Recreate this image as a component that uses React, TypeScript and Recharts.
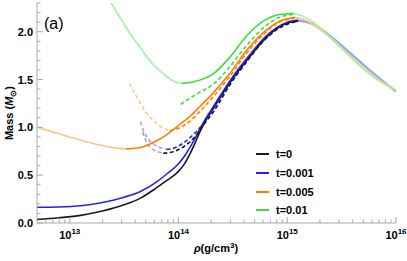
import React from 'react';
import { LineChart, Line, XAxis, YAxis, Legend } from 'recharts';

const FRAME = '#a9a9a9';
const FONT = '"Liberation Sans", Arial, Helvetica, sans-serif';

// x values are log10(rho / g cm^-3), y values are Mass (M_sun)
const xDomain: [number, number] = [Math.log10(5e12), 16];
const yDomain: [number, number] = [0, 2.3];
const xMajorTicks = [13, 14, 15, 16];
const xMinorMultipliers = [2, 3, 4, 5, 6, 7, 8, 9];
const xDecades = [12, 13, 14, 15];
const yTicks = [0, 0.1, 0.2, 0.3, 0.4, 0.5, 0.6, 0.7, 0.8, 0.9, 1.0, 1.1, 1.2, 1.3, 1.4, 1.5, 1.6, 1.7, 1.8, 1.9, 2.0, 2.1, 2.2, 2.3];
const yMajorTicks = [0, 0.5, 1.0, 1.5, 2.0];
const tLabels = ['t=0', 't=0.001', 't=0.005', 't=0.01'];

// t = 0
const t0SolidStable: [number, number][] = [[12.699, 0.036], [12.9, 0.055], [13.1, 0.08], [13.3, 0.125], [13.5, 0.19], [13.65, 0.26], [13.8, 0.37], [13.9, 0.45], [14.0, 0.54], [14.05, 0.61], [14.1, 0.71], [14.15, 0.83], [14.2, 0.96], [14.25, 1.07], [14.3, 1.16], [14.4, 1.34], [14.5, 1.51], [14.6, 1.66], [14.7, 1.8], [14.8, 1.93], [14.9, 2.03], [15.0, 2.09], [15.1, 2.11]];
const t0SolidRight: [number, number][] = [[15.1, 2.11], [15.2, 2.09], [15.3, 2.03], [15.45, 1.9], [15.6, 1.75], [15.75, 1.6], [15.9, 1.46], [16.0, 1.37]];
const t0DashedLeft: [number, number][] = [[13.67, 0.95], [13.7, 0.86], [13.74, 0.79], [13.8, 0.75], [13.86, 0.73]];
const t0DashedStable: [number, number][] = [[13.86, 0.73], [13.95, 0.745], [14.05, 0.8], [14.15, 0.9], [14.24, 1.04], [14.32, 1.16], [14.47, 1.44], [14.63, 1.69], [14.78, 1.9], [14.93, 2.04], [15.1, 2.11]];

// t = 0.001
const t1SolidStable: [number, number][] = [[12.699, 0.165], [12.9, 0.168], [13.1, 0.18], [13.3, 0.215], [13.5, 0.27], [13.65, 0.33], [13.8, 0.43], [13.9, 0.52], [14.0, 0.62], [14.05, 0.69], [14.1, 0.78], [14.15, 0.88], [14.2, 0.99], [14.25, 1.09], [14.3, 1.18], [14.4, 1.36], [14.5, 1.53], [14.6, 1.68], [14.7, 1.82], [14.8, 1.95], [14.9, 2.04], [15.0, 2.1], [15.1, 2.12]];
const t1SolidRight: [number, number][] = [[15.1, 2.12], [15.2, 2.1], [15.3, 2.04], [15.45, 1.91], [15.6, 1.76], [15.75, 1.61], [15.9, 1.47], [16.0, 1.38]];
const t1DashedLeft: [number, number][] = [[13.65, 1.06], [13.68, 0.96], [13.72, 0.88], [13.78, 0.82], [13.85, 0.78], [13.89, 0.77]];
const t1DashedStable: [number, number][] = [[13.89, 0.77], [13.95, 0.78], [14.05, 0.84], [14.15, 0.94], [14.2, 1.0], [14.3, 1.16], [14.47, 1.46], [14.63, 1.71], [14.78, 1.92], [14.93, 2.05], [15.1, 2.12]];

// t = 0.005
const t5SolidLeft: [number, number][] = [[12.699, 1.0], [12.85, 0.95], [13.0, 0.9], [13.15, 0.85], [13.3, 0.81], [13.42, 0.785], [13.52, 0.775]];
const t5SolidStable: [number, number][] = [[13.52, 0.775], [13.65, 0.79], [13.8, 0.86], [13.9, 0.93], [14.0, 1.02], [14.1, 1.11], [14.2, 1.22], [14.32, 1.36], [14.47, 1.56], [14.63, 1.81], [14.78, 1.99], [14.93, 2.11], [15.07, 2.15]];
const t5SolidRight: [number, number][] = [[15.07, 2.15], [15.15, 2.13], [15.25, 2.07], [15.4, 1.93], [15.55, 1.77], [15.7, 1.61], [15.85, 1.48], [16.0, 1.385]];
const t5DashedLeft: [number, number][] = [[13.55, 1.46], [13.6, 1.35], [13.65, 1.25], [13.7, 1.16], [13.75, 1.09], [13.82, 1.02], [13.92, 0.965]];
const t5DashedStable: [number, number][] = [[13.92, 0.965], [14.0, 0.99], [14.1, 1.06], [14.2, 1.17], [14.32, 1.32], [14.47, 1.53], [14.63, 1.78], [14.78, 1.97], [14.93, 2.1], [15.07, 2.14]];

// t = 0.01
const t10SolidLeft: [number, number][] = [[13.3, 2.45], [13.37, 2.32], [13.45, 2.17], [13.51, 2.06], [13.58, 1.94], [13.645, 1.84], [13.72, 1.72], [13.8, 1.62], [13.87, 1.55], [13.93, 1.5], [13.985, 1.47], [14.03, 1.46]];
const t10SolidStable: [number, number][] = [[14.03, 1.46], [14.15, 1.48], [14.32, 1.56], [14.47, 1.73], [14.63, 1.96], [14.78, 2.11], [14.93, 2.18], [15.06, 2.19]];
const t10SolidRight: [number, number][] = [[15.06, 2.19], [15.15, 2.16], [15.25, 2.09], [15.4, 1.94], [15.55, 1.78], [15.7, 1.62], [15.85, 1.49], [16.0, 1.395]];
const t10DashedStable: [number, number][] = [[14.02, 1.24], [14.1, 1.3], [14.2, 1.37], [14.32, 1.45], [14.47, 1.63], [14.63, 1.86], [14.78, 2.04], [14.93, 2.15], [15.06, 2.18]];

const dark = ['#1a1a1a', '#2323ea', '#ff8000', '#3ade3a'];
const light = ['#a8a8a8', '#a3a3f2', '#ffc48c', '#a0f3a0'];

const pts = (a: [number, number][]) => a.map(([x, y]) => ({ x, y }));

const xTicks: number[] = [
  ...xDecades.flatMap((d) => xMinorMultipliers.map((m) => d + Math.log10(m))),
  ...xMajorTicks,
].filter((v) => v > xDomain[0] + 1e-6 && v <= xDomain[1] + 1e-9).sort((a, b) => a - b);

const isMajorX = (v: number) => Math.abs(v - Math.round(v)) < 1e-6;
const isMajorY = (v: number) => yMajorTicks.some((m) => Math.abs(m - v) < 1e-6);

const BottomTick = (p: any) => {
  const { x, y, payload } = p;
  const v = payload.value;
  const major = isMajorX(v);
  return (
    <g>
      <line x1={x} x2={x} y1={y} y2={y - (major ? 6 : 3.5)} stroke={FRAME} strokeWidth={1} />
      {major && (
        <text x={x} y={y + 16} textAnchor="middle" fontFamily={FONT} fontWeight="bold" fontSize={11} fill="#000">
          10<tspan dy={-5} fontSize={8}>{Math.round(v)}</tspan>
        </text>
      )}
    </g>
  );
};
const TopTick = (p: any) => {
  const { x, y, payload } = p;
  const major = isMajorX(payload.value);
  return <line x1={x} x2={x} y1={y} y2={y + (major ? 6 : 3.5)} stroke={FRAME} strokeWidth={1} />;
};
const LeftTick = (p: any) => {
  const { x, y, payload } = p;
  const v = payload.value;
  const major = isMajorY(v);
  return (
    <g>
      <line x1={x} x2={x + (major ? 6 : 3.5)} y1={y} y2={y} stroke={FRAME} strokeWidth={1} />
      {major && (
        <text x={x - 4} y={y + 4} textAnchor="end" fontFamily={FONT} fontWeight="bold" fontSize={11} fill="#000">
          {v.toFixed(1)}
        </text>
      )}
    </g>
  );
};
const RightTick = (p: any) => {
  const { x, y, payload } = p;
  const major = isMajorY(payload.value);
  return <line x1={x} x2={x - (major ? 6 : 3.5)} y1={y} y2={y} stroke={FRAME} strokeWidth={1} />;
};

const LegendBox = () => (
  <div style={{ fontFamily: FONT, fontWeight: 'bold', fontSize: 11, color: '#000' }}>
    {tLabels.map((l, i) => (
      <div key={l} style={{ display: 'flex', alignItems: 'center', height: 18.7 }}>
        <svg width={13} height={4} style={{ display: 'block' }}>
          <line x1={0} x2={13} y1={2} y2={2} stroke={dark[i]} strokeWidth={2} />
        </svg>
        <span style={{ marginLeft: 7 }}>{l}</span>
      </div>
    ))}
  </div>
);

type Seg = { data: [number, number][]; color: string; dashed?: boolean; key: string };
const segments: Seg[] = [
  { key: 't0sr', data: t0SolidRight, color: light[0] },
  { key: 't1sr', data: t1SolidRight, color: light[1] },
  { key: 't5sr', data: t5SolidRight, color: light[2] },
  { key: 't10sr', data: t10SolidRight, color: light[3] },
  { key: 't5sl', data: t5SolidLeft, color: light[2] },
  { key: 't10sl', data: t10SolidLeft, color: light[3] },
  { key: 't5dl', data: t5DashedLeft, color: light[2], dashed: true },
  { key: 't0dl', data: t0DashedLeft, color: light[0], dashed: true },
  { key: 't1dl', data: t1DashedLeft, color: light[1], dashed: true },
  { key: 't10ss', data: t10SolidStable, color: dark[3] },
  { key: 't10ds', data: t10DashedStable, color: dark[3], dashed: true },
  { key: 't5ss', data: t5SolidStable, color: dark[2] },
  { key: 't5ds', data: t5DashedStable, color: dark[2], dashed: true },
  { key: 't1ss', data: t1SolidStable, color: dark[1] },
  { key: 't0ss', data: t0SolidStable, color: dark[0] },
  { key: 't1ds', data: t1DashedStable, color: dark[1], dashed: true },
  { key: 't0ds', data: t0DashedStable, color: dark[0], dashed: true },
];

export default function App() {
  return (
    <div style={{ position: 'absolute', left: 0, top: 0, width: 407, height: 261, background: '#fff' }}>
      <LineChart width={407} height={261} margin={{ top: 3, right: 11, bottom: 0, left: 0 }}>
        <XAxis
          xAxisId="b" dataKey="x" type="number" domain={xDomain} allowDataOverflow ticks={xTicks} interval={0}
          height={38} tickSize={0} tickMargin={0} tickLine={false} axisLine={{ stroke: FRAME }} tick={<BottomTick />}
        />
        <XAxis
          xAxisId="t" orientation="top" dataKey="x" type="number" domain={xDomain} allowDataOverflow ticks={xTicks} interval={0}
          height={0} tickSize={0} tickMargin={0} tickLine={false} axisLine={{ stroke: FRAME }} tick={<TopTick />}
        />
        <YAxis
          yAxisId="l" type="number" domain={yDomain} allowDataOverflow ticks={yTicks} interval={0}
          width={37} tickSize={0} tickMargin={0} tickLine={false} axisLine={{ stroke: FRAME }} tick={<LeftTick />}
        />
        <YAxis
          yAxisId="r" orientation="right" type="number" domain={yDomain} allowDataOverflow ticks={yTicks} interval={0}
          width={0} tickSize={0} tickMargin={0} tickLine={false} axisLine={{ stroke: FRAME }} tick={<RightTick />}
        />
        {segments.map((s) => (
          <Line
            key={s.key} xAxisId="b" yAxisId="l" data={pts(s.data)} dataKey="y" type="monotone"
            stroke={s.color} strokeWidth={1.6} strokeDasharray={s.dashed ? '4 2.5' : undefined}
            dot={false} activeDot={false} isAnimationActive={false} legendType="none"
          />
        ))}
        <Legend
          layout="vertical" align="center" verticalAlign="middle" content={<LegendBox />}
          wrapperStyle={{ position: 'absolute', left: 256, top: 145, width: 'auto', height: 'auto' }}
        />
      </LineChart>
      <svg width={407} height={261} style={{ position: 'absolute', left: 0, top: 0, pointerEvents: 'none' }}>
        <text x={44} y={29} fontFamily={FONT} fontSize={16} fill="#000">(a)</text>
        <text x={216} y={252} textAnchor="middle" fontFamily={FONT} fontWeight="bold" fontSize={11} fill="#000">
          <tspan fontStyle="italic">ρ</tspan>(g/cm<tspan dy={-4} fontSize={8}>3</tspan><tspan dy={4}>)</tspan>
        </text>
        <text transform="translate(13,113) rotate(-90)" textAnchor="middle" fontFamily={FONT} fontWeight="bold" fontSize={11} fill="#000">
          Mass (<tspan fontStyle="italic">M</tspan><tspan dy={3} fontSize={8}>⊙</tspan><tspan dy={-3}>)</tspan>
        </text>
      </svg>
    </div>
  );
}
